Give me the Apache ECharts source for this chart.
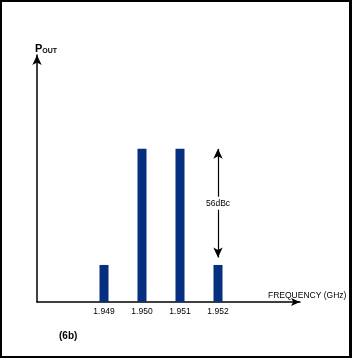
<!DOCTYPE html>
<html>
<head>
<meta charset="utf-8">
<script src="https://cdn.jsdelivr.net/npm/echarts@6/dist/echarts.min.js"></script>
<style>
  html, body { margin: 0; padding: 0; background: #fff; }
  #chart { position: absolute; left: 0; top: 0; width: 352px; height: 358px; }
  #frame { position: absolute; left: 0; top: 0; width: 352px; height: 358px; box-sizing: border-box;
           border-style: solid; border-color: #000; border-width: 2px 3px 2px 2px; pointer-events: none; }
</style>
</head>
<body>
<div id="chart"></div>
<div id="frame"></div>
<script>
// spectrum lines (GHz) and relative output power
const frequencies = [1.949, 1.950, 1.951, 1.952]
const tickLabels = ['1.949', '1.950', '1.951', '1.952']
const power = [15, 62, 62, 15]
const spurLevel = 18
const annotation = '56dBc'

const chart = echarts.init(document.getElementById('chart'), null, { renderer: 'canvas' })
const font = 'Liberation Sans, Arial, sans-serif'

const option = {
  backgroundColor: '#fff',
  animation: false,
  grid: { left: 37, right: 52, top: 55, bottom: 56 },
  title: [
    {
      text: '{p|P}{s|OUT}',
      left: 30, top: 38,
      textStyle: {
        rich: {
          p: { fontFamily: font, fontSize: 11, color: '#000' },
          s: { fontFamily: font, fontSize: 7, color: '#000', padding: [5, 0, 0, 0] }
        }
      }
    },
    {
      text: 'FREQUENCY (GHz)',
      left: 263, top: 286,
      textStyle: { fontFamily: font, fontSize: 8.5, fontWeight: 'normal', color: '#000' }
    },
    {
      text: '(6b)',
      left: 54, top: 326,
      textStyle: { fontFamily: font, fontSize: 10, fontWeight: 'bold', color: '#000' }
    }
  ],
  xAxis: {
    type: 'value',
    min: 1.947237,
    max: 1.954158,
    splitLine: { show: false },
    axisLine: {
      show: true,
      lineStyle: { color: '#000', width: 1.5 },
      symbol: ['none', 'arrow'],
      symbolSize: [6, 9]
    },
    axisTick: { show: false },
    axisLabel: {
      customValues: frequencies,
      formatter: (v) => tickLabels[frequencies.indexOf(v)] ?? '',
      fontFamily: font, fontSize: 8.5, color: '#000', margin: 5
    }
  },
  yAxis: {
    type: 'value',
    min: 0,
    max: 100,
    splitLine: { show: false },
    axisTick: { show: false },
    axisLabel: { show: false },
    axisLine: {
      show: true,
      lineStyle: { color: '#000', width: 1.5 },
      symbol: ['none', 'arrow'],
      symbolSize: [7, 10]
    }
  },
  series: [{
    type: 'bar',
    data: frequencies.map((f, i) => [f, power[i]]),
    barWidth: 9,
    itemStyle: { color: '#06307f' },
    markLine: {
      silent: true,
      symbol: ['arrow', 'arrow'],
      symbolSize: [7, 10],
      lineStyle: { color: '#000', width: 1.2, type: 'solid' },
      label: {
        show: true,
        position: 'middle',
        distance: 0,
        align: 'center',
        verticalAlign: 'middle',
        formatter: annotation,
        fontFamily: font, fontSize: 8.5, color: '#000',
        backgroundColor: '#fff', padding: [2, 1],
        rotate: 0
      },
      data: [[
        { coord: [frequencies[3], power[1]] },
        { coord: [frequencies[3], spurLevel] }
      ]]
    }
  }]
}

chart.setOption(option)
</script>
</body>
</html>
